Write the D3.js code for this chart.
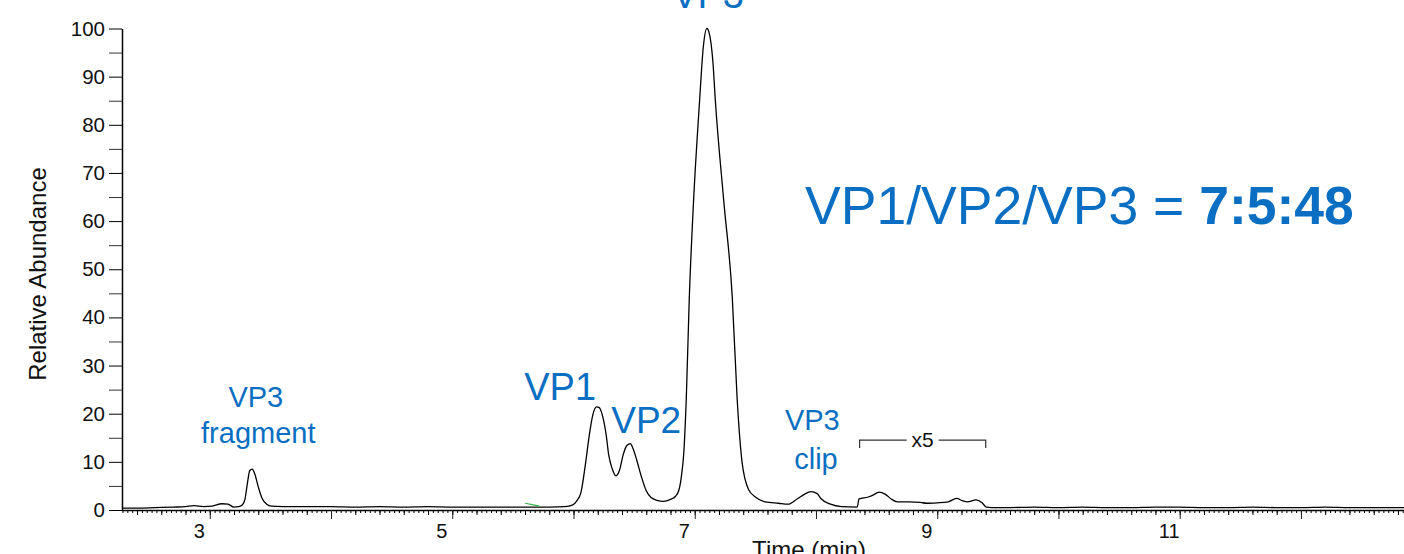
<!DOCTYPE html>
<html>
<head>
<meta charset="utf-8">
<script src="https://cdn.jsdelivr.net/npm/d3@7"></script>
<style>
  body { margin: 0; background: #fff; overflow: hidden; }
  text { font-family: "Liberation Sans", Arial, sans-serif; }
</style>
</head>
<body>
<div id="chart"></div>
<script>
// chromatogram trace (time in min, relative abundance; 8.36-9.40 min already shown x5)
var times = [2.28, 2.40, 2.55, 2.70, 2.80, 2.87, 2.95, 3.02, 3.10, 3.15, 3.20, 3.24, 3.27, 3.29, 3.31, 3.33, 3.35, 3.37, 3.40, 3.43, 3.47, 3.51,
  3.60, 3.80, 4.00, 4.20, 4.40, 4.60, 4.80, 5.00, 5.20, 5.40, 5.60, 5.80, 5.93, 5.99, 6.03, 6.06, 6.10, 6.13, 6.16, 6.19, 6.21,
  6.24, 6.27, 6.29, 6.32, 6.35, 6.38, 6.41, 6.44, 6.47, 6.49, 6.52, 6.56, 6.60, 6.64, 6.69, 6.74, 6.80, 6.84, 6.87, 6.89, 6.91,
  6.93, 6.955, 6.99, 7.04, 7.07, 7.10, 7.12, 7.15, 7.17, 7.24, 7.31, 7.35, 7.39, 7.445, 7.50, 7.58, 7.69, 7.77, 7.85, 7.90, 7.96,
  8.01, 8.04, 8.12, 8.21, 8.34, 8.355, 8.43, 8.47, 8.52, 8.57, 8.62, 8.67, 8.77, 8.86, 8.91, 9.00, 9.09, 9.16, 9.21, 9.25, 9.32,
  9.37, 9.405, 9.45, 9.60, 9.80, 10.0, 10.2, 10.4, 10.6, 10.8, 11.0, 11.2, 11.4, 11.6, 11.8, 12.0, 12.2, 12.4, 12.6, 12.85];
var abundance = [0.4, 0.4, 0.5, 0.6, 0.7, 0.9, 0.7, 0.8, 1.3, 1.2, 0.6, 0.7, 1.1, 2.2, 5.5, 8.2, 8.5, 7.6, 4.8, 2.5, 1.2, 0.8,
  0.7, 0.7, 0.7, 0.6, 0.7, 0.6, 0.7, 0.6, 0.6, 0.6, 0.6, 0.6, 0.7, 1.0, 2.0, 3.5, 9.8, 15.5, 19.8, 21.4, 21.3,
  19.5, 15.5, 11.5, 8.5, 7.1, 8.3, 11.5, 13.4, 13.8, 12.8, 10.5, 6.9, 4.0, 2.6, 2.0, 1.8, 2.2, 2.8, 4.2, 7, 12,
  23, 44, 64, 85, 96, 100, 99, 93, 85, 64, 44, 23, 10, 4.2, 2.7, 1.7, 1.4, 1.2, 2.4, 3.2, 3.8,
  3.4, 2.4, 1.2, 0.7, 0.6, 2.3, 2.7, 3.1, 3.7, 3.3, 2.3, 1.7, 1.7, 1.6, 1.4, 1.5, 1.7, 2.4, 1.9, 1.7, 2.1,
  1.5, 0.6, 0.5, 0.5, 0.6, 0.5, 0.6, 0.5, 0.5, 0.6, 0.6, 0.5, 0.5, 0.6, 0.5, 0.5, 0.6, 0.5, 0.5, 0.5];

// short green trace fragment near 5.6 min
var greenTimes = [5.60, 5.66, 5.72];
var greenAbundance = [1.4, 1.1, 0.8];

var xLabelTicks = [3, 5, 7, 9, 11];
var yLabelTicks = [0, 10, 20, 30, 40, 50, 60, 70, 80, 90, 100];
var x5Range = [8.36, 9.40];

var blue = "#0a6fc2";
var W = 1404, H = 554;

var svg = d3.select("#chart").append("svg")
    .attr("width", W)
    .attr("height", H);

var x = d3.scaleLinear().domain([2.276, 12.85]).range([122, 1404]);
var y = d3.scaleLinear().domain([0, 100]).range([510, 28.5]);

// x axis: minor, medium, integer ticks
var xMinor = d3.range(0, 270).map(i => 2.28 + i * 0.04).filter(t => t <= 12.85);
svg.append("g")
    .attr("transform", "translate(0,510)")
    .call(d3.axisBottom(x).tickValues(xMinor).tickSize(3).tickFormat(""))
    .call(g => g.select(".domain").remove());
svg.append("g")
    .attr("transform", "translate(0,510)")
    .call(d3.axisBottom(x).tickValues(d3.range(2.4, 12.85, 0.2)).tickSize(5).tickFormat(""))
    .call(g => g.select(".domain").remove());
var xAxis = svg.append("g")
    .attr("transform", "translate(0,510)")
    .call(d3.axisBottom(x).tickValues(d3.range(3, 13, 1)).tickSize(9)
        .tickFormat(d => xLabelTicks.indexOf(d) >= 0 ? d : ""));
xAxis.selectAll(".tick text")
    .attr("dx", -11)
    .attr("y", 14)
    .style("font-size", "20px")
    .attr("fill", "#111");
xAxis.select(".domain").attr("stroke-width", 1.5).attr("d", "M122,0.5H1404");
xAxis.selectAll("line").attr("stroke", "#222");

// y axis
svg.append("g")
    .attr("transform", "translate(122,0)")
    .call(d3.axisLeft(y).tickValues(d3.range(5, 100, 10)).tickSize(13).tickFormat(""))
    .call(g => g.select(".domain").remove())
    .selectAll("line").attr("stroke", "#333");
var yAxis = svg.append("g")
    .attr("transform", "translate(122,0)")
    .call(d3.axisLeft(y).tickValues(yLabelTicks).tickSize(13).tickSizeOuter(0));
yAxis.selectAll(".tick text")
    .attr("x", -17)
    .style("font-size", "20.5px")
    .attr("fill", "#111");
yAxis.select(".domain").attr("stroke-width", 1.5);

// axis titles
svg.append("text")
    .attr("transform", "rotate(-90)")
    .attr("x", -274)
    .attr("y", 46)
    .attr("text-anchor", "middle")
    .style("font-size", "24px")
    .attr("fill", "#111")
    .text("Relative Abundance");
svg.append("text")
    .attr("x", 809)
    .attr("y", 558)
    .attr("text-anchor", "middle")
    .style("font-size", "24px")
    .attr("fill", "#111")
    .text("Time (min)");

// traces
var pts = times.map((t, i) => [t, abundance[i]]);
svg.append("path")
    .datum(pts)
    .attr("fill", "none")
    .attr("stroke", "#000")
    .attr("stroke-width", 1.3)
    .attr("d", d3.line().x(d => x(d[0])).y(d => y(d[1])).curve(d3.curveMonotoneX));

svg.append("path")
    .datum(greenTimes.map((t, i) => [t, greenAbundance[i]]))
    .attr("fill", "none")
    .attr("stroke", "#3cb44b")
    .attr("stroke-width", 1.2)
    .attr("d", d3.line().x(d => x(d[0])).y(d => y(d[1])));

// x5 bracket
var bx0 = x(x5Range[0]), bx1 = x(x5Range[1]), by = y(14.5), byEnd = y(12.9);
var bmid = (bx0 + bx1) / 2;
var bracket = svg.append("g").attr("stroke", "#333").attr("stroke-width", 1.2).attr("fill", "none");
bracket.append("path").attr("d", "M" + bx0 + "," + byEnd + "V" + by + "H" + (bmid - 16));
bracket.append("path").attr("d", "M" + (bmid + 16) + "," + by + "H" + bx1 + "V" + byEnd);
svg.append("text")
    .attr("x", bmid)
    .attr("y", by + 7)
    .attr("text-anchor", "middle")
    .style("font-size", "21px")
    .attr("fill", "#111")
    .text("x5");

// peak labels
function label(t, v, txt, size) {
    svg.append("text")
        .attr("x", x(t))
        .attr("y", y(v))
        .attr("text-anchor", "middle")
        .style("font-size", size + "px")
        .attr("fill", blue)
        .text(txt);
}
label(7.11, 104.3, "VP3", 38);
label(3.38, 21.4, "VP3", 29);
label(3.40, 13.9, "fragment", 29);
label(5.89, 22.8, "VP1", 38);
label(6.60, 16.0, "VP2", 37);
label(7.97, 16.6, "VP3", 29);
label(8.00, 8.5, "clip", 29);

// ratio
var ratio = svg.append("text")
    .attr("x", x(7.91))
    .attr("y", y(59.4))
    .style("font-size", "53.5px")
    .attr("fill", blue);
ratio.append("tspan").text("VP1/VP2/VP3 = ");
ratio.append("tspan").style("font-weight", "bold").text("7:5:48");
</script>
</body>
</html>
